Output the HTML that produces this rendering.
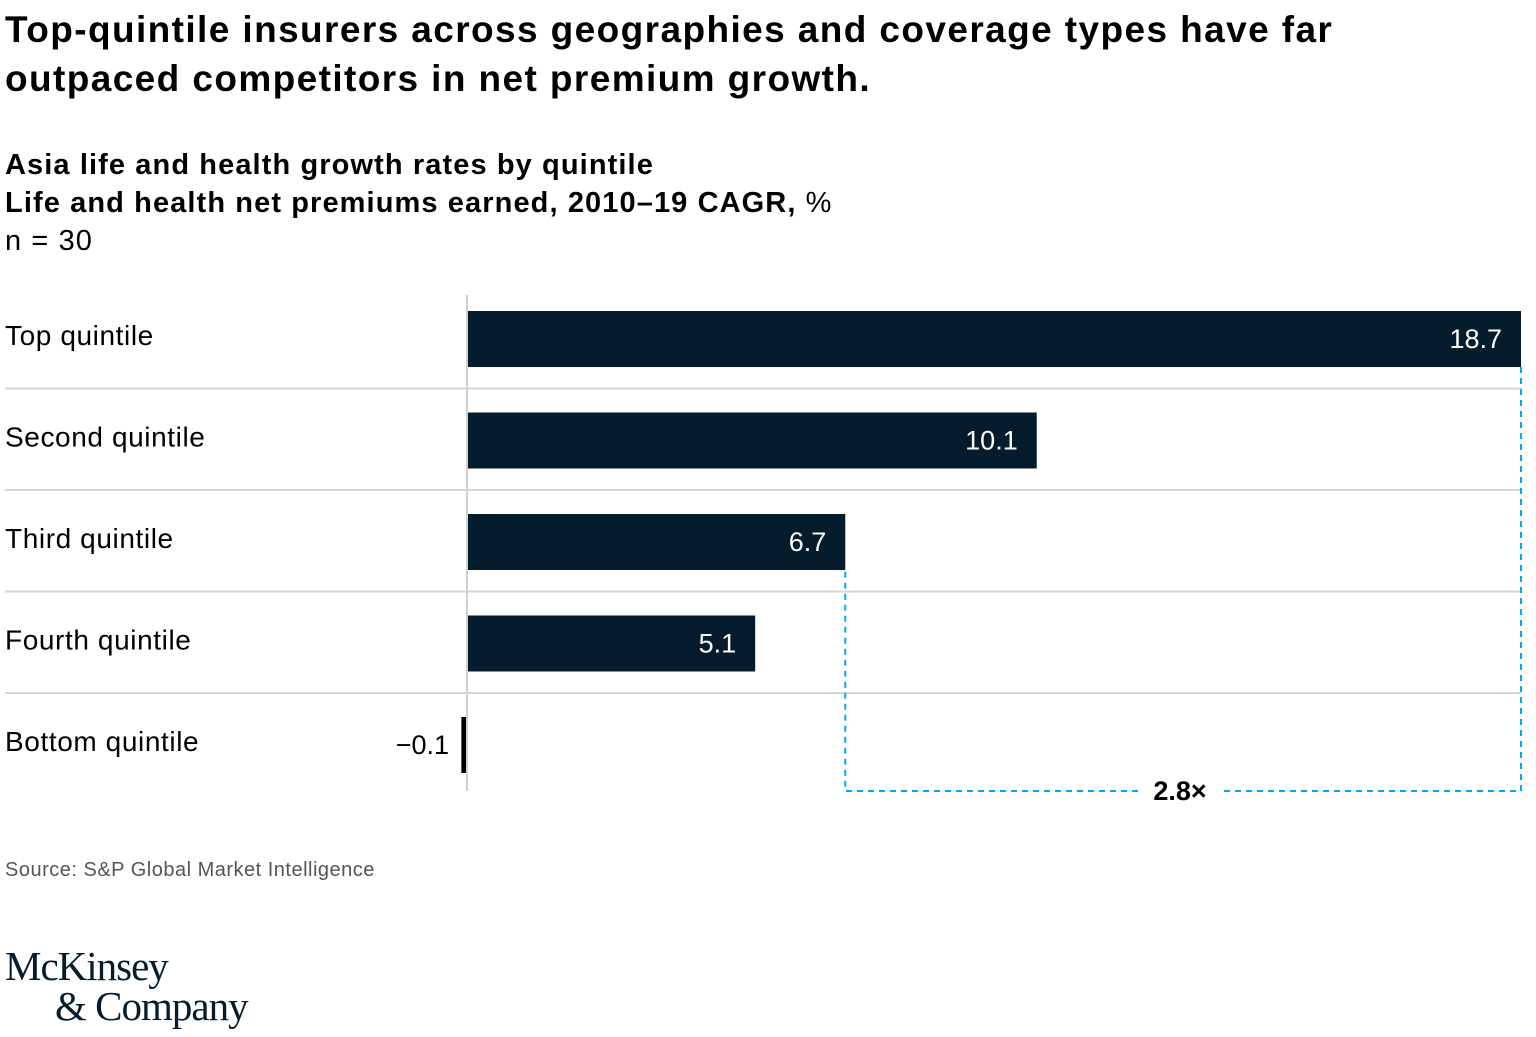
<!DOCTYPE html>
<html><head><meta charset="utf-8"><style>
body{margin:0;width:1536px;height:1037px;background:#fff;font-family:"Liberation Sans",sans-serif;color:#051c2c;overflow:hidden;position:relative}
.t{position:absolute;left:5px;white-space:nowrap}
</style></head><body>
<div class="t" style="top:5px;font-size:37px;font-weight:bold;line-height:49px;color:#000;letter-spacing:1.4px">Top-quintile insurers across geographies and coverage types have far<br>outpaced competitors in net premium growth.</div>
<div class="t" style="top:146px;font-size:29px;font-weight:bold;line-height:38px;color:#000;letter-spacing:1.1px">Asia life and health growth rates by quintile<br>Life and health net premiums earned, 2010–19 CAGR, <span style="font-weight:normal">%</span><br><span style="font-weight:normal">n = 30</span></div>
<svg id="chart" width="1536" height="1037" style="position:absolute;left:0;top:0" font-family="Liberation Sans, sans-serif"></svg>
<div class="t" style="top:859px;font-size:20px;color:#555;letter-spacing:0.5px">Source: S&amp;P Global Market Intelligence</div>
<div class="t" style="top:946px;font-family:'Liberation Serif',serif;font-size:41px;line-height:40px;color:#051c2c;letter-spacing:-1px">McKinsey<br><span style="padding-left:50px">&amp; Company</span></div>
<script>
const categories=["Top quintile","Second quintile","Third quintile","Fourth quintile","Bottom quintile"];
const values=[18.7,10.1,6.7,5.1,-0.1];
const labels=["18.7","10.1","6.7","5.1","−0.1"];
const ratioLabel="2.8×";
const svg=document.getElementById('chart');
const NS='http://www.w3.org/2000/svg';
const x0=468,scale=(1521-468)/18.7;
const X=v=>x0+v*scale;
const rowTop=295,rowH=101.5;
function el(t,a){const e=document.createElementNS(NS,t);for(const k in a)e.setAttribute(k,a[k]);svg.appendChild(e);return e;}
categories.forEach((c,i)=>{
  const cy=rowTop+rowH*i+44;
  if(i<categories.length-1){const s=el('line',{x1:5,x2:1521,y1:rowTop+rowH*(i+1)-8,y2:rowTop+rowH*(i+1)-8,stroke:'#d6d6d6','stroke-width':2});
  }
  const t=el('text',{x:5,y:cy+6,'font-size':28,fill:'#000','letter-spacing':0.6});t.textContent=c;
  
  const v=values[i];
  const xa=Math.min(X(v),x0),xb=Math.max(X(v),x0);
  const w=Math.max(xb-xa,3);
  const b=el('rect',{x:v<0?x0-w-1:xa,y:cy-28,width:w,height:56,fill:v<0?'#000':'#051c2c'});
  
  const l=el('text',{'font-size':27,y:cy+9});
  if(v>1.5){l.setAttribute('x',X(v)-19);l.setAttribute('text-anchor','end');l.setAttribute('fill','#fff');}
  else{l.setAttribute('x',x0-19);l.setAttribute('text-anchor','end');l.setAttribute('fill','#000');}
  l.textContent=labels[i];
  
});
const ax=el('line',{x1:x0-1,x2:x0-1,y1:295,y2:791,stroke:'#d0d0d0','stroke-width':2});

const yb=791,xa2=X(values[2]),xt=X(values[0]);
const d=el('path',{d:`M${xt},${rowTop+28+44} V${yb} H1220 M1138,${yb} H${xa2} V${rowTop+rowH*2+72}`,fill:'none',stroke:'#00a9f4','stroke-width':2,'stroke-dasharray':'6,5'});

const r=el('text',{x:1180,y:yb+9,'font-size':27,'font-weight':'bold','text-anchor':'middle',fill:'#000'});r.textContent=ratioLabel;

</script>
</body></html>
